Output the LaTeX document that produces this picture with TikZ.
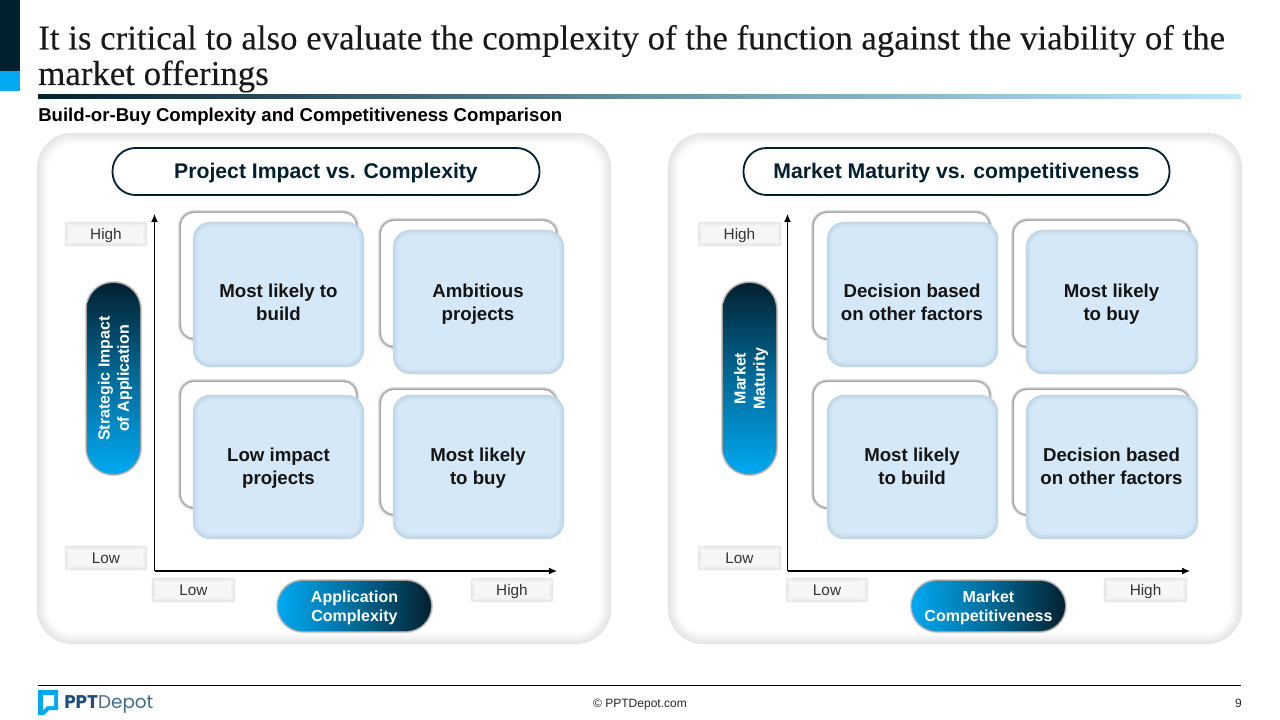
\documentclass[tikz,border=0pt]{standalone}
\usepackage{fontspec}
\setmainfont{Liberation Sans}
\newfontfamily\titlefont[FakeBold=0.15]{Liberation Serif}
\newfontfamily\logofont{Poppins}
\usetikzlibrary{positioning}
\usetikzlibrary{arrows, shapes, arrows.meta}
\def\px{0.75pt}
\definecolor{navy}{HTML}{03202F}
\definecolor{sky}{HTML}{00A9F1}
\definecolor{pale}{HTML}{BDE8FA}
\definecolor{cardblue}{HTML}{D4E8F7}
\definecolor{cardedge}{HTML}{BFD5E5}
\definecolor{logoblue}{HTML}{1B4E7E}
\definecolor{logosoft}{HTML}{3F6C8E}
\definecolor{paneledge}{HTML}{E4E4E4}
\definecolor{tagedge}{HTML}{E6E6E6}
\definecolor{tagfill}{HTML}{F6F6F6}
\tikzstyle{arrow} = [line width=1.2*\px,->,>={Latex[length=6pt,width=5.25pt]}]
\tikzstyle{heading} = [draw=navy, line width=1.8*\px, fill=white, rounded corners=23*\px, minimum height=47*\px, text height=13pt, text depth=3.2pt, text=navy, font=\fontsize{15.9}{18}\selectfont\bfseries]
\tikzstyle{cardtext} = [align=center, text=black!92, text depth=0pt, font=\fontsize{14}{17.25}\selectfont\bfseries]
\tikzstyle{level} = [text=black!80, text height=10.7pt, text depth=2.5pt, font=\fontsize{11.5}{14}\selectfont]
\tikzstyle{pilltext} = [draw=none, text=white, align=center, text depth=0pt, font=\fontsize{12}{14.5}\selectfont\bfseries, rounded corners=25*\px]
\tikzstyle{vpill} = [pilltext, minimum width=191*\px, minimum height=53*\px, rotate=90, top color=navy, bottom color=sky, middle color=sky!55!navy, rounded corners=26*\px]
\tikzstyle{hpill} = [pilltext, minimum width=153*\px, minimum height=50*\px, left color=sky, right color=navy, middle color=sky!55!navy]
% box with a soft edge running inwards: x1,y1,x2,y2,radius,edge,fill,depth
\newcommand{\softbox}[8]{%
  \fill[#7, rounded corners=#5*\px] (#1,#2) rectangle (#3,#4);
  \foreach \i [evaluate=\i as \m using 100-\i*100/#8] in {0,...,#8}
    \draw[#6!\m!#7, line width=1.3*\px, rounded corners=(#5-\i)*\px] ({#1+\i+0.5},{#2+\i+0.5}) rectangle ({#3-\i-0.5},{#4-\i-0.5});
}
% soft shadow running outwards: x1,y1,x2,y2,radius,depth
\newcommand{\softshadow}[6]{%
  \foreach \i [evaluate=\i as \m using 36-(\i-1)*36/#6] in {#6,...,1}
    \fill[black!\m, rounded corners=(#5+\i)*\px] ({#1-\i},{#2-\i}) rectangle ({#3+\i},{#4+\i});
}
% one back card with its front card
\newcommand{\backcard}[4]{%
  \softshadow{#1}{#2}{#3}{#4}{13}{3}
  \fill[white, rounded corners=13*\px] (#1,#2) rectangle (#3,#4);
}
\begin{document}
\begin{tikzpicture}[x=0.75pt,y=-0.75pt]
      \useasboundingbox (0,0) rectangle (1280,720);
      %%%%%%%%%%%%%%%%%%%%%%%%%%%%%%%%%%%%%%%
      \fill[navy] (0,0) rectangle (20,71);
      \fill[sky] (0,71) rectangle (20,91);
      \node (title1) [anchor=base west, inner sep=0pt, text=black!90] at (38,49.5) {\titlefont\fontsize{26.12}{30}\selectfont It is critical to also evaluate the complexity of the function against the viability of the};
      \node (title2) [anchor=base west, inner sep=0pt, text=black!90] at (38,85) {\titlefont\fontsize{26.12}{30}\selectfont market offerings};
      \shade[left color=navy, right color=pale, middle color=navy!45!pale] (38,95) rectangle (1241,99);
      \node (subtitle) [anchor=base west, inner sep=0pt, text=black] at (38,122) {\fontsize{13.95}{16}\selectfont\bfseries Build-or-Buy Complexity and Competitiveness Comparison};
      %%%%%%%%%%%%%%%%%%%%%%%%%%%%%%%%%%%%%%%
      % left panel
      \softbox{37}{133}{611}{644}{35}{paneledge}{white}{11}
      \draw (326,171.5) node (head1) [heading, minimum width=427*\px] {Project Impact vs. Complexity};
      \backcard{181}{213}{356}{338}
      \backcard{381}{221}{556}{346}
      \backcard{181}{382}{356}{507}
      \backcard{381}{390}{556}{514}
      \softbox{193}{222}{364}{367}{17}{cardedge}{cardblue}{5}
      \softbox{393}{230}{564}{374}{17}{cardedge}{cardblue}{5}
      \softbox{193}{395}{364}{539}{17}{cardedge}{cardblue}{5}
      \softbox{393}{395}{564}{539}{17}{cardedge}{cardblue}{5}
      \draw (278.5,302.5) node (a1) [cardtext] {Most likely to\\build};
      \draw (478,302.5) node (a2) [cardtext] {Ambitious\\projects};
      \draw (278.5,466.5) node (a3) [cardtext] {Low impact\\projects};
      \draw (478,466.5) node (a4) [cardtext] {Most likely\\to buy};
      \coordinate (o1) at (154.5,571);
      \coordinate (ytip1) at (154.5,214);
      \coordinate (xtip1) at (557,571);
      \draw[arrow] (o1)--(ytip1);
      \draw[arrow] (o1)--(xtip1);
      \softbox{65}{222}{147}{246}{2}{tagedge}{tagfill}{4}
      \softbox{65}{546}{147}{570}{2}{tagedge}{tagfill}{4}
      \softbox{152}{578}{235}{602}{2}{tagedge}{tagfill}{4}
      \softbox{471}{578}{553}{602}{2}{tagedge}{tagfill}{4}
      \draw (106,234) node (h1) [level] {High};
      \draw (106,558) node (l1) [level] {Low};
      \draw (193.5,590) node (l2) [level] {Low};
      \draw (512,590) node (h2) [level] {High};
      \softshadow{87}{283}{140}{474}{26}{2}
      \softshadow{278}{581}{431}{631}{25}{2}
      \draw (113.5,378.5) node (p1) [vpill] {Strategic Impact\\of Application};
      \draw (354.5,606) node (p2) [hpill] {Application\\Complexity};
      %%%%%%%%%%%%%%%%%%%%%%%%%%%%%%%%%%%%%%%
      % right panel
      \softbox{668}{133}{1242}{644}{35}{paneledge}{white}{11}
      \draw (956.5,171.5) node (head2) [heading, minimum width=426*\px] {Market Maturity vs. competitiveness};
      \backcard{814}{213}{989}{338}
      \backcard{1014}{221}{1189}{346}
      \backcard{814}{382}{989}{507}
      \backcard{1014}{390}{1189}{514}
      \softbox{827}{222}{998}{367}{17}{cardedge}{cardblue}{5}
      \softbox{1026}{230}{1198}{374}{17}{cardedge}{cardblue}{5}
      \softbox{827}{395}{998}{539}{17}{cardedge}{cardblue}{5}
      \softbox{1026}{395}{1198}{539}{17}{cardedge}{cardblue}{5}
      \draw (912,302.5) node (b1) [cardtext] {Decision based\\on other factors};
      \draw (1111.5,302.5) node (b2) [cardtext] {Most likely\\to buy};
      \draw (912,466.5) node (b3) [cardtext] {Most likely\\to build};
      \draw (1111.5,466.5) node (b4) [cardtext] {Decision based\\on other factors};
      \coordinate (o2) at (787.5,571);
      \coordinate (ytip2) at (787.5,214);
      \coordinate (xtip2) at (1190,571);
      \draw[arrow] (o2)--(ytip2);
      \draw[arrow] (o2)--(xtip2);
      \softbox{698}{222}{781}{246}{2}{tagedge}{tagfill}{4}
      \softbox{698}{546}{781}{570}{2}{tagedge}{tagfill}{4}
      \softbox{786}{578}{868}{602}{2}{tagedge}{tagfill}{4}
      \softbox{1104}{578}{1187}{602}{2}{tagedge}{tagfill}{4}
      \draw (739.5,234) node (h3) [level] {High};
      \draw (739.5,558) node (l3) [level] {Low};
      \draw (827,590) node (l4) [level] {Low};
      \draw (1145.5,590) node (h4) [level] {High};
      \softshadow{723}{283}{776}{474}{26}{2}
      \softshadow{912}{581}{1065}{631}{25}{2}
      \draw (749.5,378.5) node (p3) [vpill] {Market\\Maturity};
      \draw (988.5,606) node (p4) [hpill] {Market\\Competitiveness};
      %%%%%%%%%%%%%%%%%%%%%%%%%%%%%%%%%%%%%%%
      % footer
      \draw[line width=1*\px] (38,685.5)--(1241,685.5);
      \fill[sky] (38,690)--(58,690)--(58,710)--(49,710)--(44,715)--(38,715)--cycle;
      \fill[white] (43,695)--(54,695)--(54,706)--(47,706)--(43,710)--cycle;
      \node (logo) [anchor=base west, inner sep=0pt] at (64,708) {\logofont\fontsize{13.8}{16}\selectfont\textcolor{logoblue}{\bfseries PPT}\textcolor{logosoft}{Depot}};
      \node (copyright) [text=black!85, font=\fontsize{9}{11}\selectfont] at (640,704.5) {© PPTDepot.com};
      \node (page) [anchor=east, inner sep=0pt, text=black!85, font=\fontsize{9}{11}\selectfont] at (1242,703) {9};
\end{tikzpicture}
\end{document}
